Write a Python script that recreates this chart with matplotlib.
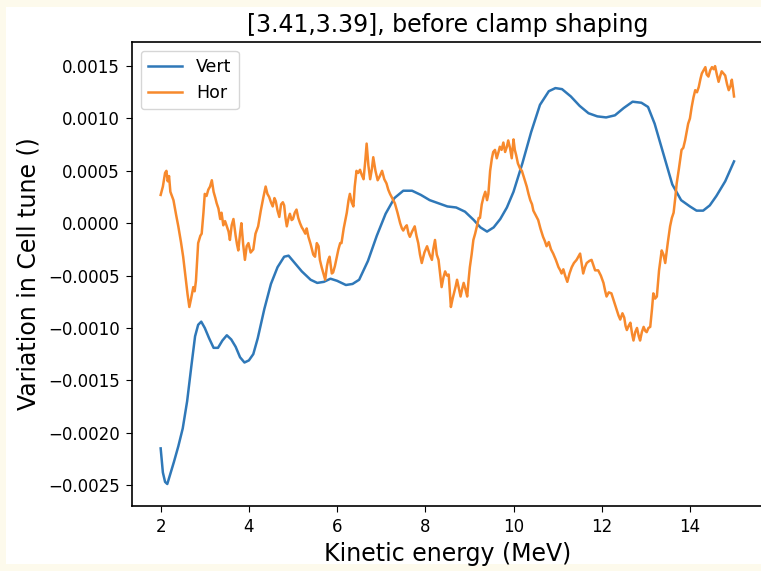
import matplotlib
matplotlib.use("Agg")
import matplotlib.pyplot as plt
from matplotlib.patches import Rectangle

vert_x = [2.00, 2.05, 2.10, 2.15, 2.20, 2.30, 2.40, 2.50, 2.60, 2.70, 2.78, 2.85, 2.92, 3.00,
          3.10, 3.20, 3.30, 3.40, 3.50, 3.60, 3.70, 3.80, 3.90, 4.00, 4.10, 4.20, 4.35, 4.50,
          4.65, 4.80, 4.90, 5.00, 5.20, 5.40, 5.55, 5.70, 5.85, 6.00, 6.10, 6.20, 6.35, 6.50,
          6.70, 6.90, 7.10, 7.30, 7.50, 7.70, 7.90, 8.10, 8.30, 8.50, 8.70, 8.90, 9.10, 9.25,
          9.40, 9.55, 9.70, 9.85, 10.00, 10.20, 10.40, 10.60, 10.80, 10.95, 11.10, 11.30,
          11.50, 11.70, 11.90, 12.10, 12.30, 12.50, 12.70, 12.90, 13.05, 13.20, 13.40, 13.60,
          13.80, 14.00, 14.15, 14.30, 14.45, 14.60, 14.80, 15.00]
vert_y = [-0.00215, -0.00238, -0.00247, -0.00249, -0.00242, -0.00228, -0.00213, -0.00196,
          -0.00170, -0.00135, -0.00108, -0.00097, -0.00094, -0.00100, -0.00110, -0.00119,
          -0.00119, -0.00112, -0.00107, -0.00111, -0.00118, -0.00128, -0.00133, -0.00131,
          -0.00125, -0.00110, -0.00082, -0.00058, -0.00042, -0.00032, -0.00031, -0.00036,
          -0.00046, -0.00054, -0.00057, -0.00056, -0.00053, -0.00055, -0.00057, -0.00059,
          -0.00058, -0.00054, -0.00036, -0.00012, 0.00009, 0.00024, 0.00031, 0.00031,
          0.00027, 0.00022, 0.00019, 0.00016, 0.00015, 0.00011, 0.00003, -0.00004,
          -0.00008, -0.00004, 0.00004, 0.00015, 0.00030, 0.00057, 0.00087, 0.00113,
          0.00126, 0.00129, 0.00128, 0.00121, 0.00112, 0.00105, 0.00102, 0.00101,
          0.00103, 0.00110, 0.00116, 0.00115, 0.00111, 0.00095, 0.00066, 0.00037,
          0.00022, 0.00016, 0.00012, 0.00012, 0.00017, 0.00026, 0.00040, 0.00059]

hor_x = [2.00, 2.05, 2.10, 2.13, 2.16, 2.19, 2.22, 2.29, 2.35, 2.40, 2.46, 2.51, 2.56, 2.61,
         2.65, 2.69, 2.74, 2.77, 2.80, 2.85, 2.90, 2.93, 2.97, 3.00, 3.04, 3.08, 3.12, 3.16,
         3.20, 3.24, 3.27, 3.31, 3.35, 3.38, 3.42, 3.46, 3.50, 3.54, 3.57, 3.61, 3.65, 3.70,
         3.73, 3.76, 3.80, 3.83, 3.87, 3.91, 3.95, 3.99, 4.04, 4.10, 4.15, 4.21, 4.27, 4.33,
         4.38, 4.42, 4.46, 4.50, 4.54, 4.58, 4.61, 4.65, 4.69, 4.73, 4.77, 4.80, 4.83, 4.86,
         4.90, 4.93, 4.97, 5.00, 5.04, 5.08, 5.12, 5.16, 5.20, 5.23, 5.28, 5.31, 5.35, 5.40,
         5.46, 5.50, 5.54, 5.58, 5.61, 5.65, 5.69, 5.73, 5.77, 5.80, 5.83, 5.88, 5.91, 5.95,
         5.98, 6.03, 6.07, 6.10, 6.15, 6.22, 6.26, 6.29, 6.33, 6.37, 6.40, 6.44, 6.48, 6.52,
         6.56, 6.60, 6.64, 6.67, 6.71, 6.75, 6.79, 6.82, 6.87, 6.92, 6.97, 7.02, 7.07, 7.12,
         7.16, 7.20, 7.25, 7.31, 7.37, 7.43, 7.47, 7.50, 7.54, 7.58, 7.62, 7.65, 7.70, 7.76,
         7.80, 7.84, 7.88, 7.92, 7.98, 8.04, 8.10, 8.15, 8.18, 8.22, 8.26, 8.30, 8.34, 8.37,
         8.41, 8.45, 8.49, 8.53, 8.56, 8.58, 8.62, 8.65, 8.69, 8.72, 8.76, 8.80, 8.84, 8.87,
         8.91, 8.95, 8.98, 9.01, 9.05, 9.09, 9.13, 9.17, 9.21, 9.24, 9.28, 9.32, 9.36, 9.40,
         9.43, 9.47, 9.51, 9.54, 9.58, 9.62, 9.66, 9.69, 9.73, 9.77, 9.81, 9.85, 9.88, 9.92,
         9.96, 10.00, 10.03, 10.06, 10.10, 10.15, 10.19, 10.25, 10.30, 10.34, 10.38, 10.42,
         10.45, 10.50, 10.56, 10.61, 10.67, 10.71, 10.75, 10.80, 10.85, 10.90, 10.96, 11.02,
         11.06, 11.09, 11.13, 11.17, 11.22, 11.27, 11.32, 11.37, 11.43, 11.47, 11.51, 11.55,
         11.58, 11.62, 11.66, 11.72, 11.77, 11.81, 11.85, 11.92, 11.98, 12.04, 12.08, 12.11,
         12.16, 12.22, 12.28, 12.34, 12.38, 12.42, 12.47, 12.51, 12.54, 12.57, 12.61, 12.65,
         12.69, 12.72, 12.76, 12.80, 12.84, 12.87, 12.91, 12.95, 12.99, 13.02, 13.06, 13.10,
         13.14, 13.17, 13.21, 13.25, 13.30, 13.36, 13.40, 13.44, 13.50, 13.55, 13.59, 13.63,
         13.67, 13.70, 13.75, 13.81, 13.85, 13.89, 13.93, 13.96, 14.00, 14.04, 14.08, 14.12,
         14.16, 14.20, 14.24, 14.27, 14.31, 14.35, 14.38, 14.42, 14.46, 14.50, 14.54, 14.57,
         14.61, 14.65, 14.69, 14.72, 14.76, 14.80, 14.84, 14.88, 14.92, 14.95, 14.98, 15.00]
hor_y = [0.00027, 0.00035, 0.00048, 0.00050, 0.00040, 0.00045, 0.00030, 0.00022, 0.00008,
         -0.00003, -0.00018, -0.00032, -0.00050, -0.00068, -0.00080, -0.00072, -0.00061,
         -0.00065, -0.00055, -0.00019, -0.00012, -0.00010, 0.00010, 0.00028, 0.00026,
         0.00032, 0.00035, 0.00041, 0.00030, 0.00024, 0.00019, 0.00014, 0.00004, 0.00010,
         -0.00002, 0.00002, -0.00003, -0.00008, -0.00016, -0.00002, 0.00004, -0.00012,
         -0.00020, -0.00026, -0.00010, 0.00000, -0.00020, -0.00035, -0.00022, -0.00019,
         -0.00028, -0.00025, -0.00010, -0.00003, 0.00012, 0.00025, 0.00035, 0.00028,
         0.00025, 0.00020, 0.00016, 0.00024, 0.00021, 0.00012, 0.00006, 0.00018, 0.00020,
         0.00017, 0.00005, -0.00003, 0.00005, 0.00009, 0.00003, 0.00004, 0.00010, 0.00013,
         0.00005, 0.00000, -0.00004, -0.00006, -0.00010, -0.00005, -0.00013, -0.00020,
         -0.00030, -0.00032, -0.00019, -0.00022, -0.00035, -0.00042, -0.00048, -0.00054,
         -0.00041, -0.00035, -0.00032, -0.00048, -0.00047, -0.00041, -0.00035, -0.00025,
         -0.00019, -0.00019, -0.00005, 0.00010, 0.00022, 0.00028, 0.00020, 0.00016,
         0.00035, 0.00050, 0.00048, 0.00051, 0.00046, 0.00042, 0.00060, 0.00076, 0.00055,
         0.00042, 0.00052, 0.00063, 0.00050, 0.00041, 0.00045, 0.00050, 0.00042, 0.00038,
         0.00032, 0.00028, 0.00024, 0.00019, 0.00010, 0.00000, -0.00005, -0.00007,
         -0.00004, -0.00002, -0.00010, -0.00013, -0.00008, -0.00003, -0.00012, -0.00019,
         -0.00030, -0.00038, -0.00028, -0.00022, -0.00030, -0.00035, -0.00025, -0.00016,
         -0.00030, -0.00035, -0.00050, -0.00061, -0.00052, -0.00046, -0.00050, -0.00049,
         -0.00068, -0.00080, -0.00072, -0.00067, -0.00060, -0.00054, -0.00062, -0.00070,
         -0.00062, -0.00057, -0.00063, -0.00070, -0.00055, -0.00042, -0.00030, -0.00016,
         -0.00010, -0.00003, 0.00005, 0.00005, 0.00018, 0.00025, 0.00030, 0.00022, 0.00028,
         0.00050, 0.00062, 0.00068, 0.00070, 0.00062, 0.00068, 0.00073, 0.00070, 0.00077,
         0.00068, 0.00073, 0.00079, 0.00072, 0.00062, 0.00080, 0.00070, 0.00065, 0.00057,
         0.00052, 0.00050, 0.00042, 0.00035, 0.00028, 0.00022, 0.00018, 0.00012, 0.00008,
         0.00003, -0.00005, -0.00013, -0.00017, -0.00022, -0.00018, -0.00025, -0.00029,
         -0.00035, -0.00042, -0.00045, -0.00048, -0.00044, -0.00050, -0.00056, -0.00048,
         -0.00042, -0.00038, -0.00035, -0.00032, -0.00029, -0.00040, -0.00048, -0.00042,
         -0.00038, -0.00036, -0.00035, -0.00040, -0.00045, -0.00045, -0.00050, -0.00057,
         -0.00065, -0.00070, -0.00066, -0.00067, -0.00075, -0.00083, -0.00088, -0.00092,
         -0.00086, -0.00090, -0.00098, -0.00102, -0.00098, -0.00095, -0.00106, -0.00112,
         -0.00104, -0.00100, -0.00108, -0.00112, -0.00104, -0.00099, -0.00103, -0.00104,
         -0.00100, -0.00099, -0.00082, -0.00067, -0.00072, -0.00070, -0.00045, -0.00026,
         -0.00030, -0.00038, -0.00018, -0.00003, 0.00005, 0.00010, 0.00025, 0.00038,
         0.00052, 0.00070, 0.00072, 0.00079, 0.00088, 0.00095, 0.00100, 0.00111, 0.00120,
         0.00127, 0.00125, 0.00130, 0.00138, 0.00143, 0.00146, 0.00149, 0.00142, 0.00140,
         0.00146, 0.00149, 0.00147, 0.00150, 0.00142, 0.00135, 0.00141, 0.00145, 0.00143,
         0.00141, 0.00133, 0.00127, 0.00131, 0.00137, 0.00128, 0.00121]

series_labels = ["Vert", "Hor"]
title_text = "[3.41,3.39], before clamp shaping"
x_label = "Kinetic energy (MeV)"
y_label = "Variation in Cell tune ()"

W, H = 761, 571
fig = plt.figure(figsize=(W / 100, H / 100), dpi=100, facecolor="#fdfaec")
bg = Rectangle((6 / W, 7 / H), 1, (H - 14) / H, transform=fig.transFigure,
               facecolor="white", edgecolor="none", zorder=-10)
fig.add_artist(bg)

ax = fig.add_axes([132 / W, 65 / H, 630.7 / W, 464 / H])
ax.set_zorder(5)
ax.plot(vert_x, vert_y, color="#2f78b8", lw=1.8, label=series_labels[0])
ax.plot(hor_x, hor_y, color="#f7892c", lw=1.8, label=series_labels[1])
ax.set_xlim(1.35, 15.65)
ax.set_ylim(-0.0027, 0.00173)
ax.set_xticks([2, 4, 6, 8, 10, 12, 14])
ax.set_yticks([-0.0025, -0.002, -0.0015, -0.001, -0.0005, 0.0, 0.0005, 0.001, 0.0015])
ax.set_yticklabels([f"{v:.4f}".replace("-", "\u2212") for v in ax.get_yticks()])
ax.tick_params(labelsize=12, length=4.5, pad=4.5)
ax.set_xlabel(x_label, fontsize=17, labelpad=4)
ax.set_ylabel(y_label, fontsize=17, labelpad=5)
ax.set_title(title_text, fontsize=17, pad=7)
ax.legend(loc="upper left", fontsize=12.5)
for s in ax.spines.values():
    s.set_linewidth(1.2)

fig.savefig("out.png", dpi=100, facecolor=fig.get_facecolor())
